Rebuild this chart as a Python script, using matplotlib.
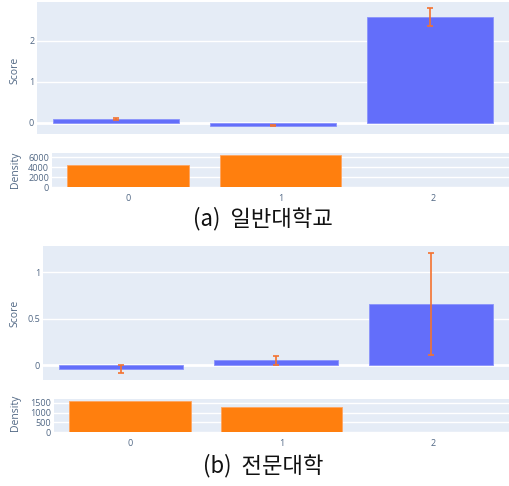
import matplotlib
matplotlib.use("Agg")
import matplotlib.pyplot as plt

plt.rcParams['font.family'] = ['Open Sans', 'DejaVu Sans']

W, H = 509, 486

categories = [0, 1, 2]
cat_labels = ["0", "1", "2"]

# (a) 일반대학교
score_a = [0.09, -0.07, 2.58]
score_err_a = [0.03, 0.015, 0.22]
density_a = [4400, 6400, 30]

# (b) 전문대학
score_b = [-0.045, 0.05, 0.66]
score_err_b = [0.045, 0.05, 0.55]
density_b = [1600, 1310, 10]

captions = ["(a)  일반대학교", "(b)  전문대학"]

BG = '#E5ECF6'
BLUE = '#636EFA'
ORANGE = '#FF7F0E'
ERR = '#F4722F'
TXT = '#506784'
TICKFS = 6.5

fig = plt.figure(figsize=(W / 100, H / 100), dpi=100)


def add_ax(l, t, r, b):
    return fig.add_axes([l / W, 1 - b / H, (r - l) / W, (b - t) / H])


def style(ax):
    ax.set_facecolor(BG)
    for s in ax.spines.values():
        s.set_visible(False)
    ax.tick_params(length=0, labelsize=TICKFS, colors=TXT, pad=2)
    ax.grid(axis='y', color='white', lw=1)
    ax.set_axisbelow(True)
    ax.set_xlim(-0.5, 2.5)


def score_panel(box, vals, errs, ylim, yticks, yticklabels):
    ax = add_ax(*box)
    style(ax)
    ax.axhline(0, color='white', lw=2, zorder=0.5)
    ax.bar(categories, vals, width=0.8, color=BLUE, edgecolor='#8A93FB', lw=0.6, zorder=2)
    ax.errorbar(categories, vals, yerr=errs, fmt='none', ecolor=ERR, elinewidth=1.2,
                capsize=2.5, capthick=1.2, zorder=3)
    ax.set_ylim(*ylim)
    ax.set_yticks(yticks)
    ax.set_yticklabels(yticklabels)
    ax.set_xticks([])
    return ax


def density_panel(box, vals, ylim, yticks):
    ax = add_ax(*box)
    style(ax)
    ax.bar(categories, vals, width=0.8, color=ORANGE, edgecolor='#FFA560', lw=0.6, zorder=2)
    ax.set_ylim(*ylim)
    ax.set_yticks(yticks)
    ax.set_yticklabels([str(v) for v in yticks])
    ax.set_xticks(categories)
    ax.set_xticklabels(cat_labels)
    ax.tick_params(axis='x', pad=5)
    return ax


score_panel((37, 2, 509, 134), score_a, score_err_a, (-0.27, 2.95), [0, 1, 2], ["0", "1", "2"])
density_panel((52, 153, 509, 187), density_a, (0, 6800), [0, 2000, 4000, 6000])
score_panel((43, 246, 509, 380), score_b, score_err_b, (-0.16, 1.28), [0, 0.5, 1], ["0", "0.5", "1"])
density_panel((54, 399, 509, 432), density_b, (0, 1700), [0, 500, 1000, 1500])

for y, lab in [(70, "Score"), (170, "Density"), (313, "Score"), (413, "Density")]:
    fig.text(15 / W, 1 - y / H, lab, rotation=90, ha='center', va='center',
             fontsize=7.5, color=TXT)

fig.text(263 / W, 1 - 219 / H, captions[0], ha='center', va='center', fontsize=16,
         color='#111111', family=['Noto Sans CJK KR', 'DejaVu Sans'])
fig.text(263 / W, 1 - 466 / H, captions[1], ha='center', va='center', fontsize=16,
         color='#111111', family=['Noto Sans CJK KR', 'DejaVu Sans'])

fig.savefig("out.png", dpi=100)
